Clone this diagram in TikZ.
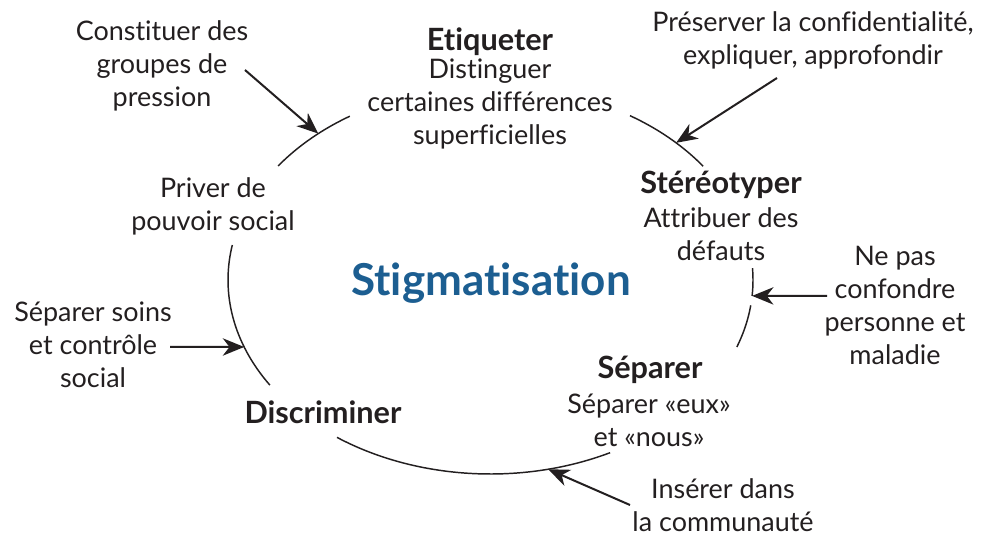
\documentclass[tikz,border=0pt]{standalone}
\usepackage{fontspec}
\setmainfont{Lato}[Ligatures=NoCommon]
\usetikzlibrary{arrows.meta}
\definecolor{txt}{RGB}{35,31,32}
\definecolor{stig}{RGB}{28,94,145}
\begin{document}
\begin{tikzpicture}[x=0.75pt,y=-0.75pt,
  lbl/.style={align=center, text=txt, font=\fontsize{20.2}{24.75}\selectfont, inner sep=0pt},
  hd/.style={lbl, font=\fontsize{23}{24.75}\selectfont\bfseries},
  ring/.style={draw=txt, line width=1.1pt},
  arr/.style={draw=txt, line width=1.5pt, -{Stealth[length=16pt,width=13pt,inset=5pt]}}]
\useasboundingbox[fill=white] (0,0) rectangle (982,538);

% ring pieces
\draw[ring] plot[domain=122.4:144, samples=30] ({490.5+262.5*cos(\x)},{280-194*sin(\x)});
\draw[ring] plot[domain=35.9:57.9, samples=30] ({490.5+262.5*cos(\x)},{280-194*sin(\x)});
\draw[ring] plot[domain=-4.7:3.5, samples=10] ({490.5+262.5*cos(\x)},{280-194*sin(\x)});
\draw[ring] plot[domain=-20.2:-7.5, samples=20] ({490.5+262.5*cos(\x)},{280-194*sin(\x)});
\draw[ring] plot[domain=169.6:212.8, samples=40] ({490.5+262.5*cos(\x)},{280-194*sin(\x)});
\draw[ring] plot[domain=234.2:297.1, samples=60] ({490.5+262.5*cos(\x)},{280-194*sin(\x)});

% arrow ends on the ring
\coordinate (t1) at ({490.5+262.5*cos(131)},{280-194*sin(131)});
\coordinate (t2) at ({490.5+262.5*cos(45)},{280-194*sin(45)});
\coordinate (t3) at ({490.5+262.5*cos(-4.7)},{280-194*sin(-4.7)});
\coordinate (t4) at ({490.5+262.5*cos(200.2)},{280-194*sin(200.2)});
\coordinate (t5) at ({490.5+262.5*cos(282.7)},{280-194*sin(282.7)});
% arrow starts
\coordinate (s1) at (245,70);
\coordinate (s2) at (777,78);
\coordinate (s3) at (827,296);
\coordinate (s4) at (170,347);
\coordinate (s5) at (630,505);

\draw[arr] (s1) -- (t1);
\draw[arr] (s2) -- (t2);
\draw[arr] (s3) -- (t3);
\draw[arr] (s4) -- (t4);
\draw[arr] (s5) -- (t5);

% texts
\node[hd]  (etiq)   at (490,42)  {Etiqueter};
\node[lbl] (etiqd)  at (490,104) {Distinguer\\certaines différences\\superficielles};
\node[lbl] (cons)   at (162,66)  {Constituer des\\groupes de\\pression};
\node[lbl] (pres)   at (813,40)  {Préserver la confidentialité,\\expliquer, approfondir};
\node[hd]  (stereo) at (721,185) {Stéréotyper};
\node[lbl] (stereod) at (721,234) {Attribuer des\\défauts};
\node[lbl] (nepas)  at (895,305) {Ne pas\\confondre\\personne et\\maladie};
\node[lbl, text=stig, font=\fontsize{33}{36}\selectfont\bfseries] (stig) at (491,283) {Stigmatisation};
\node[lbl] (priv)   at (213,206) {Priver de\\pouvoir social};
\node[lbl] (sepsoins) at (93,345) {Séparer soins\\et contrôle\\social};
\node[hd]  (disc)   at (323,412) {Discriminer};
\node[hd]  (sep)    at (650,370) {Séparer};
\node[lbl] (sepd)   at (649,420) {Séparer «eux»\\et «nous»};
\node[lbl] (ins)    at (723,505) {Insérer dans\\la communauté};
\end{tikzpicture}
\end{document}
